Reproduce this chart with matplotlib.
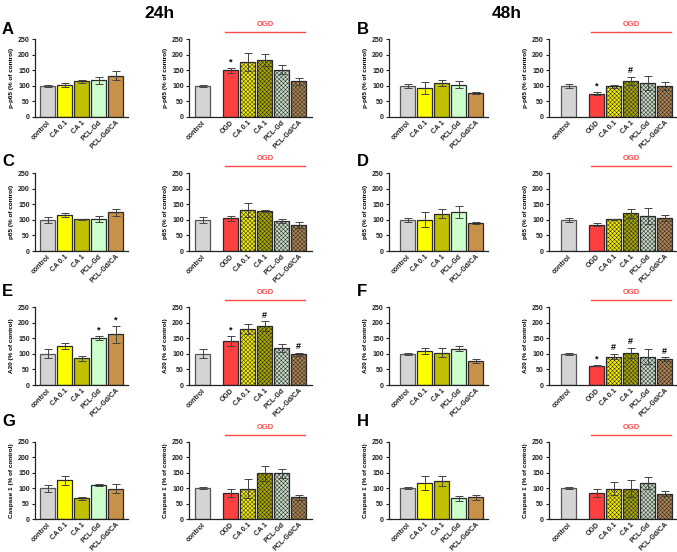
import matplotlib
matplotlib.use('Agg')
import matplotlib.pyplot as plt

plt.rcParams['font.family'] = ['Liberation Sans', 'DejaVu Sans']
plt.rcParams['font.weight'] = 'bold'
plt.rcParams['hatch.linewidth'] = 0.35

# ---------------- categories ----------------
groups_basal = ['control', 'CA 0.1', 'CA 1', 'PCL-Gd', 'PCL-Gd/CA']
groups_ogd = ['control', 'OGD', 'CA 0.1', 'CA 1', 'PCL-Gd', 'PCL-Gd/CA']

# ---------------- data (% of control) ----------------
# p-p65
pp65_24_basal = [100, 103, 114, 117, 132]
pp65_24_basal_err = [3, 7, 6, 12, 14]
pp65_24_ogd = [100, 150, 175, 182, 152, 114]
pp65_24_ogd_err = [3, 8, 29, 20, 14, 12]
pp65_48_basal = [100, 92, 109, 103, 77]
pp65_48_basal_err = [7, 19, 11, 11, 2]
pp65_48_ogd = [100, 75, 98, 116, 108, 99]
pp65_48_ogd_err = [7, 6, 6, 13, 22, 12]

# p65
p65_24_basal = [100, 115, 101, 102, 124]
p65_24_basal_err = [9, 6, 3, 10, 11]
p65_24_ogd = [100, 105, 131, 128, 96, 84]
p65_24_ogd_err = [9, 8, 22, 4, 5, 9]
p65_48_basal = [100, 100, 120, 124, 91]
p65_48_basal_err = [6, 24, 15, 19, 3]
p65_48_ogd = [100, 84, 102, 121, 112, 105]
p65_48_ogd_err = [6, 5, 2, 14, 25, 10]

# A20
a20_24_basal = [100, 124, 86, 151, 163]
a20_24_basal_err = [15, 10, 8, 6, 27]
a20_24_ogd = [100, 141, 179, 188, 118, 99]
a20_24_ogd_err = [15, 15, 16, 16, 12, 5]
a20_48_basal = [100, 108, 104, 116, 78]
a20_48_basal_err = [4, 9, 13, 8, 6]
a20_48_ogd = [100, 62, 91, 102, 91, 83]
a20_48_ogd_err = [4, 2, 9, 17, 25, 6]

# Caspase 1
casp_24_basal = [100, 126, 67, 110, 99]
casp_24_basal_err = [12, 15, 4, 4, 16]
casp_24_ogd = [100, 83, 99, 148, 148, 70]
casp_24_ogd_err = [4, 13, 30, 25, 14, 9]
casp_48_basal = [100, 116, 123, 67, 70]
casp_48_basal_err = [3, 22, 17, 9, 9]
casp_48_ogd = [100, 84, 99, 99, 117, 82]
casp_48_ogd_err = [3, 12, 21, 29, 19, 8]

# significance marks
a20_24_basal_marks = ['', '', '', '*', '*']
a20_24_ogd_marks = ['', '*', '', '#', '', '#']
pp65_24_ogd_marks = ['', '*', '', '', '', '']
pp65_48_ogd_marks = ['', '*', '', '#', '', '']
a20_48_ogd_marks = ['', '*', '#', '#', '', '#']

ylabels = ['p-p65 (% of control)', 'p65 (% of control)',
           'A20 (% of control)', 'Caspase 1 (% of control)']
yticks = [0, 50, 100, 150, 200, 250]

# ---------------- styles ----------------
basal_colors = ['#d4d4d4', '#ffff00', '#c0c000', '#ccffcc', '#c8914a']
ogd_colors = ['#d4d4d4', '#ff4040', '#f4ee00', '#a8a800', '#c6dcc6', '#b08450']
ogd_hatch = ['', '', 'xxxxxxxx', 'xxxxxxxx', 'xxxxxxxx', 'xxxxxxxx']
basal_x = [0, 1, 2, 3, 4]
ogd_x = [0, 1.65, 2.65, 3.65, 4.65, 5.65]

W, H = 677, 552
fig = plt.figure(figsize=(W / 100, H / 100), dpi=100)

rows = [(39, 117), (173, 251), (307, 385), (442, 519)]
cols = [  # x0, x1, bar0 center
    (35, 128, 47.5),
    (189, 312, 202.5),
    (389, 488, 407.5),
    (549, 676, 568.5),
]
unit = 17.0
bw = 15 / unit


def make_ax(col, row):
    x0, x1, c0 = cols[col]
    yt, yb = rows[row]
    ax = fig.add_axes([x0 / W, 1 - yb / H, (x1 - x0) / W, (yb - yt) / H])
    ax.set_xlim(-(c0 - x0) / unit, (x1 - c0) / unit)
    ax.set_ylim(0, 250)
    for s in ['top', 'right']:
        ax.spines[s].set_visible(False)
    for s in ['left', 'bottom']:
        ax.spines[s].set_linewidth(0.9)
        ax.spines[s].set_color('#222222')
    ax.set_yticks(yticks)
    ax.tick_params(axis='y', length=2.5, width=0.8, labelsize=5, pad=1.2, colors='#222222')
    ax.tick_params(axis='x', length=0, labelsize=5, pad=1.5, colors='#222222')
    ax.set_ylabel(ylabels[row], fontsize=4.6, fontweight='bold', labelpad=3)
    return ax


def draw(ax, xs, vals, errs, names, colors, hatches, marks):
    for x, v, c, h in zip(xs, vals, colors, hatches):
        ax.bar(x, v, width=bw, color=c, edgecolor='#555555' if c == '#d4d4d4' else '#2a2a2a',
               linewidth=0.9, hatch=h if h else None, zorder=2)
    ax.errorbar(xs, vals, yerr=errs, fmt='none', ecolor='#444444', elinewidth=0.7,
                capsize=2.8, capthick=0.7, zorder=3)
    if marks:
        for x, v, e, m in zip(xs, vals, errs, marks):
            if m:
                ax.annotate(m, (x, v + e), xytext=(0, 1), textcoords='offset points',
                            ha='center', va='bottom', fontsize=6.5, fontweight='bold')
    ax.set_xticks(xs)
    ax.set_xticklabels(names, rotation=45, ha='right', rotation_mode='anchor', fontweight='bold')


def ogd_bar(ax):
    tr = ax.get_xaxis_transform()
    ax.plot([1.35, 6.0], [1.09, 1.09], transform=tr, color='#ff4848', lw=1.0, clip_on=False)
    ax.text(3.68, 1.185, 'OGD', transform=tr, color='#ff4848', fontsize=5.5,
            fontweight='bold', ha='center', va='center')


panels = [
    (pp65_24_basal, pp65_24_basal_err, None, pp65_24_ogd, pp65_24_ogd_err, pp65_24_ogd_marks,
     pp65_48_basal, pp65_48_basal_err, None, pp65_48_ogd, pp65_48_ogd_err, pp65_48_ogd_marks),
    (p65_24_basal, p65_24_basal_err, None, p65_24_ogd, p65_24_ogd_err, None,
     p65_48_basal, p65_48_basal_err, None, p65_48_ogd, p65_48_ogd_err, None),
    (a20_24_basal, a20_24_basal_err, a20_24_basal_marks, a20_24_ogd, a20_24_ogd_err, a20_24_ogd_marks,
     a20_48_basal, a20_48_basal_err, None, a20_48_ogd, a20_48_ogd_err, a20_48_ogd_marks),
    (casp_24_basal, casp_24_basal_err, None, casp_24_ogd, casp_24_ogd_err, None,
     casp_48_basal, casp_48_basal_err, None, casp_48_ogd, casp_48_ogd_err, None),
]

for r, p in enumerate(panels):
    (b24, b24e, b24m, o24, o24e, o24m, b48, b48e, b48m, o48, o48e, o48m) = p
    ax = make_ax(0, r)
    draw(ax, basal_x, b24, b24e, groups_basal, basal_colors, [''] * 5, b24m)
    ax = make_ax(1, r)
    draw(ax, ogd_x, o24, o24e, groups_ogd, ogd_colors, ogd_hatch, o24m)
    ogd_bar(ax)
    ax = make_ax(2, r)
    draw(ax, basal_x, b48, b48e, groups_basal, basal_colors, [''] * 5, b48m)
    ax = make_ax(3, r)
    draw(ax, ogd_x, o48, o48e, groups_ogd, ogd_colors, ogd_hatch, o48m)
    ogd_bar(ax)

fig.text(159 / W, 1 - 13 / H, '24h', fontsize=12.5, fontweight='bold', ha='center', va='center')
fig.text(507 / W, 1 - 13 / H, '48h', fontsize=12.5, fontweight='bold', ha='center', va='center')

letters = [('A', 2, 30), ('B', 357, 30), ('C', 2, 161), ('D', 357, 161),
           ('E', 2, 292), ('F', 357, 292), ('G', 2, 421), ('H', 357, 421)]
for t, x, y in letters:
    fig.text(x / W, 1 - y / H, t, fontsize=12, fontweight='bold', ha='left', va='center')

fig.savefig('out.png', dpi=100)
